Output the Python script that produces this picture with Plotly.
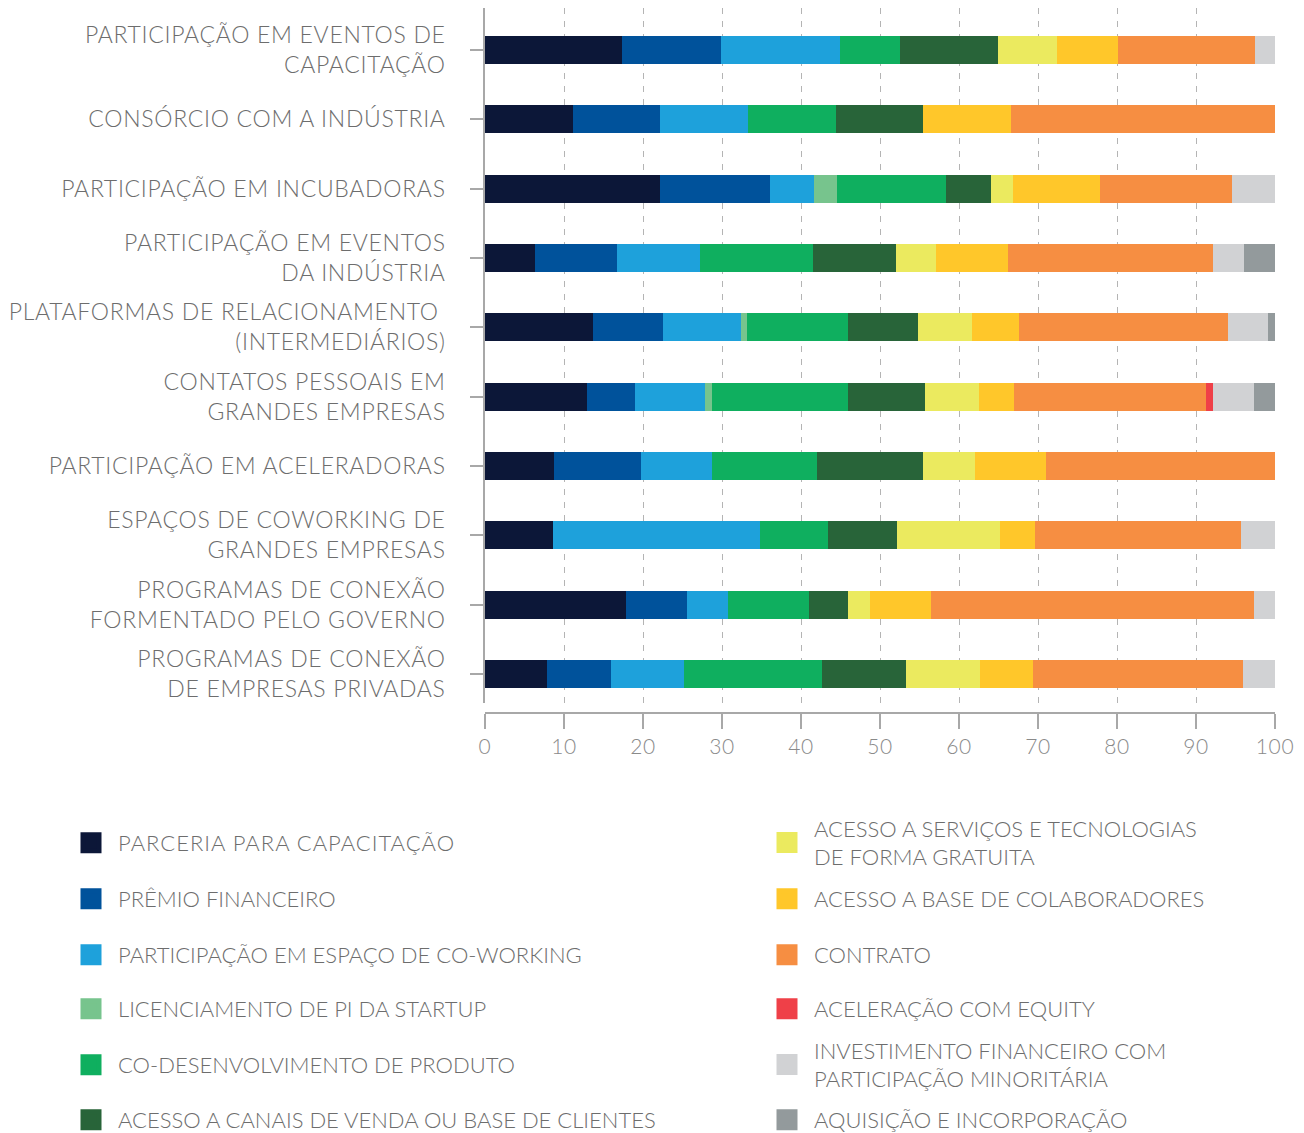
import plotly.graph_objects as go

categories = [
    "PARTICIPAÇÃO EM EVENTOS DE<br>CAPACITAÇÃO",
    "CONSÓRCIO COM A INDÚSTRIA",
    "PARTICIPAÇÃO EM INCUBADORAS",
    "PARTICIPAÇÃO EM EVENTOS<br>DA INDÚSTRIA",
    "PLATAFORMAS DE RELACIONAMENTO <br>(INTERMEDIÁRIOS)",
    "CONTATOS PESSOAIS EM<br>GRANDES EMPRESAS",
    "PARTICIPAÇÃO EM ACELERADORAS",
    "ESPAÇOS DE COWORKING DE<br>GRANDES EMPRESAS",
    "PROGRAMAS DE CONEXÃO<br>FORMENTADO PELO GOVERNO",
    "PROGRAMAS DE CONEXÃO<br>DE EMPRESAS PRIVADAS",
]

series_names = [
    "PARCERIA PARA CAPACITAÇÃO",
    "PRÊMIO FINANCEIRO",
    "PARTICIPAÇÃO EM ESPAÇO DE CO-WORKING",
    "LICENCIAMENTO DE PI DA STARTUP",
    "CO-DESENVOLVIMENTO DE PRODUTO",
    "ACESSO A CANAIS DE VENDA OU BASE DE CLIENTES",
    "ACESSO A SERVIÇOS E TECNOLOGIAS<br>DE FORMA GRATUITA",
    "ACESSO A BASE DE COLABORADORES",
    "CONTRATO",
    "ACELERAÇÃO COM EQUITY",
    "INVESTIMENTO FINANCEIRO COM<br>PARTICIPAÇÃO MINORITÁRIA",
    "AQUISIÇÃO E INCORPORAÇÃO",
]

series_colors = [
    "#0c1738", "#00529b", "#1ea1db", "#77c48d", "#0faf5f", "#286439",
    "#ebea5f", "#ffc72a", "#f68e42", "#ef4048", "#d1d2d4", "#939a9c",
]

parceria_capacitacao = [17.3, 11.1, 22.2, 6.3, 13.7, 12.9, 8.7, 8.6, 17.9, 7.8]
premio_financeiro = [12.6, 11.1, 13.9, 10.4, 8.8, 6.1, 11.1, 0, 7.7, 8.2]
espaco_coworking = [15.0, 11.1, 5.6, 10.5, 9.9, 8.8, 8.9, 26.2, 5.1, 9.2]
licenciamento_pi = [0, 0, 2.8, 0, 0.8, 0.9, 0, 0, 0, 0]
co_desenvolvimento = [7.6, 11.1, 13.9, 14.3, 12.8, 17.3, 13.3, 8.6, 10.3, 17.4]
canais_venda = [12.4, 11.1, 5.6, 10.5, 8.8, 9.7, 13.4, 8.7, 5.0, 10.7]
servicos_gratuitos = [7.5, 0, 2.8, 5.1, 6.9, 6.8, 6.6, 13.1, 2.7, 9.4]
base_colaboradores = [7.7, 11.1, 11.1, 9.1, 5.9, 4.5, 9.0, 4.4, 7.7, 6.7]
contrato = [17.4, 33.4, 16.7, 26.0, 26.5, 24.3, 29.0, 26.1, 41.0, 26.6]
aceleracao_equity = [0, 0, 0, 0, 0, 0.9, 0, 0, 0, 0]
investimento_minoritario = [2.5, 0, 5.4, 3.9, 5.0, 5.2, 0, 4.3, 2.6, 4.0]
aquisicao = [0, 0, 0, 3.9, 0.9, 2.6, 0, 0, 0, 0]

series_values = [
    parceria_capacitacao, premio_financeiro, espaco_coworking, licenciamento_pi,
    co_desenvolvimento, canais_venda, servicos_gratuitos, base_colaboradores,
    contrato, aceleracao_equity, investimento_minoritario, aquisicao,
]

x_ticks = list(range(0, 101, 10))

FONT = "Lato"
TXT = "#6d6d6d"

W, H = 1304, 1133
ml, mr, mt = 485, 29, 8
plot_bottom_px = 713
mb = H - plot_bottom_px
plot_h = plot_bottom_px - mt
plot_w = W - ml - mr

fig = go.Figure()
for name, vals, col in zip(series_names, series_values, series_colors):
    fig.add_trace(go.Bar(
        x=vals, y=categories, orientation="h", name=name,
        marker=dict(color=col, line=dict(width=0)),
        width=0.4, showlegend=False,
    ))

# legend entries (one legend per item, arranged in two columns)
left_centers = [843, 899, 955, 1009, 1065, 1120]
right_centers = [843, 899, 955, 1009, 1065, 1120]
legend_layouts = {}
for i, (name, col) in enumerate(zip(series_names, series_colors)):
    key = "legend" if i == 0 else f"legend{i+1}"
    fig.add_trace(go.Scatter(
        x=[None], y=[None], mode="markers", name=name,
        marker=dict(symbol="square", size=16, color=col, line=dict(color=col, width=5)),
        legend=key, showlegend=True,
    ))
    if i < 6:
        sym_cx = 91
        cy = left_centers[i]
        ew = 620
    else:
        sym_cx = 787
        cy = right_centers[i - 6]
        ew = 450
    legend_left = sym_cx - 27
    legend_layouts[key] = dict(
        x=(legend_left - ml) / plot_w,
        y=(plot_bottom_px - cy) / plot_h,
        xanchor="left", yanchor="middle",
        orientation="h", entrywidth=ew, entrywidthmode="pixels",
        bgcolor="rgba(0,0,0,0)", borderwidth=0,
        itemwidth=44, itemsizing="trace",
        font=dict(family=FONT, size=22, color=TXT, weight=300),
        tracegroupgap=0,
    )

fig.update_layout(
    width=W, height=H,
    margin=dict(l=ml, r=mr, t=mt, b=mb, autoexpand=False),
    barmode="stack",
    plot_bgcolor="white", paper_bgcolor="white",
    font=dict(family=FONT, size=22, color=TXT, weight=300),
    **legend_layouts,
)

fig.update_xaxes(
    range=[0, 100], tickvals=x_ticks, ticktext=[str(v) for v in x_ticks],
    showgrid=True, gridcolor="#b4b4b4", gridwidth=1, griddash="6px,7px",
    zeroline=False,
    showline=True, linecolor="#a8a8a8", linewidth=1.5,
    ticks="outside", ticklen=15, tickcolor="#a8a8a8", tickwidth=1.5,
    tickfont=dict(family=FONT, size=21, color="#8a8a8a", weight=300),
    anchor="free", position=0,
    fixedrange=True,
)

fig.update_yaxes(
    type="category", categoryorder="array", categoryarray=categories,
    range=[9.418, -0.606],
    domain=[(plot_bottom_px - 703) / plot_h, 1],
    showgrid=False, zeroline=False,
    showline=True, linecolor="#a8a8a8", linewidth=1.5,
    ticks="outside", ticklen=13, tickcolor="#a8a8a8", tickwidth=1.5,
    tickfont=dict(family=FONT, size=23, color=TXT, weight=300),
    ticklabelstandoff=20,
    fixedrange=True,
)

post_js = (
    "var s=document.createElement('style');"
    "s.textContent='.js-plotly-plot .ytick text{letter-spacing:0.7px;}"
    ".js-plotly-plot .xtick text{letter-spacing:0.6px;}"
    ".js-plotly-plot text.legendtext{letter-spacing:1px;}';"
    "document.head.appendChild(s);"
)

fig.write_html("out.html", post_script=post_js)
